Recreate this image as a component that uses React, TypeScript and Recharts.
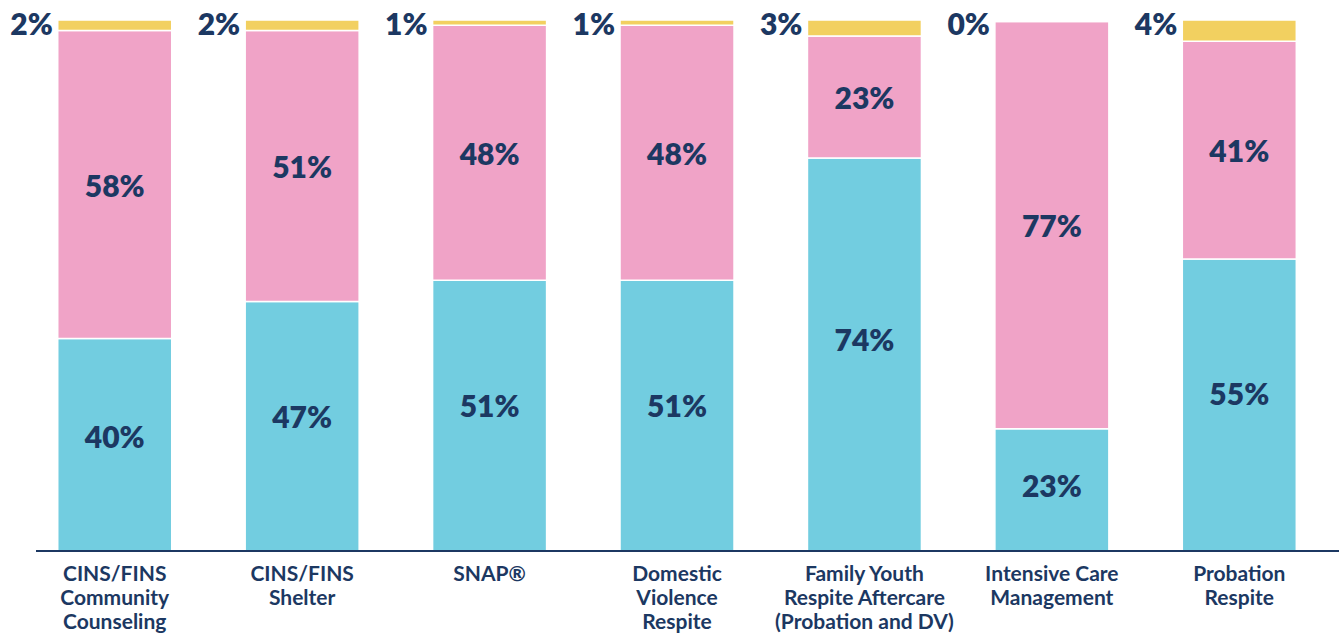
import { BarChart, Bar, XAxis, YAxis, LabelList } from "recharts";

document.body.style.margin = "0";

const categories = [
  "CINS/FINS\nCommunity\nCounseling",
  "CINS/FINS\nShelter",
  "SNAP®",
  "Domestic\nViolence\nRespite",
  "Family Youth\nRespite Aftercare\n(Probation and DV)",
  "Intensive Care\nManagement",
  "Probation\nRespite",
];
const blueValues = [40, 47, 51, 51, 74, 23, 55];
const pinkValues = [58, 51, 48, 48, 23, 76.7, 41];
const yellowValues = [2, 2, 1, 1, 3, 0.3, 4];

const data = categories.map((name, i) => ({
  name,
  blue: blueValues[i],
  pink: pinkValues[i],
  yellow: yellowValues[i],
}));

const NAVY = "#1c3862";
const FONT = "Lato, 'Open Sans', sans-serif";

const CategoryTick = (props: any) => {
  const { x, y, payload } = props;
  const lines = String(payload.value).split("\n");
  return (
    <text
      x={x}
      y={y}
      textAnchor="middle"
      fill={NAVY}
      fontFamily={FONT}
      fontWeight={700}
      fontSize={21}
    >
      {lines.map((line: string, i: number) => (
        <tspan key={i} x={x} dy={i === 0 ? 22 : 24}>
          {line}
        </tspan>
      ))}
    </text>
  );
};

// blue labels sit a bit above the segment centre, like the original
const makeCenterLabel = (frac: number) => (props: any) => {
  const { x, y, width, height, value } = props;
  return (
    <text
      x={x + width / 2}
      y={y + height * frac}
      textAnchor="middle"
      dominantBaseline="central"
      fill={NAVY}
      fontFamily={FONT}
      fontWeight={800}
      fontSize={30}
    >
      {Math.round(value)}%
    </text>
  );
};
const BlueLabel = makeCenterLabel(0.46);
const PinkLabel = makeCenterLabel(0.5);

const TopLabel = (props: any) => {
  const { x, y, value } = props;
  return (
    <text
      x={x - 5}
      y={y + 3}
      textAnchor="end"
      dominantBaseline="central"
      fill={NAVY}
      fontFamily={FONT}
      fontWeight={800}
      fontSize={30}
    >
      {Math.round(value)}%
    </text>
  );
};

export default function App() {
  return (
    <div style={{ position: "relative", width: 1339, height: 638, background: "#fff" }}>
      <BarChart
        width={1339}
        height={638}
        data={data}
        margin={{ top: 20, right: 6, bottom: 57, left: 21 }}
        barCategoryGap="19.6%"
      >
        <XAxis
          dataKey="name"
          axisLine={false}
          tickLine={false}
          interval={0}
          height={30}
          tick={<CategoryTick />}
        />
        <YAxis hide domain={[0, 100]} />
        <Bar dataKey="blue" stackId="a" fill="#72cde0" stroke="#fff" strokeWidth={1.5} isAnimationActive={false}>
          <LabelList dataKey="blue" content={<BlueLabel />} />
        </Bar>
        <Bar dataKey="pink" stackId="a" fill="#f0a3c7" stroke="#fff" strokeWidth={1.5} isAnimationActive={false}>
          <LabelList dataKey="pink" content={<PinkLabel />} />
        </Bar>
        <Bar dataKey="yellow" stackId="a" fill="#f2d060" stroke="#fff" strokeWidth={1.5} isAnimationActive={false}>
          <LabelList dataKey="yellow" content={<TopLabel />} />
        </Bar>
      </BarChart>
      <div
        style={{
          position: "absolute",
          left: 36,
          right: 0,
          top: 550,
          height: 2,
          background: NAVY,
        }}
      />
    </div>
  );
}
